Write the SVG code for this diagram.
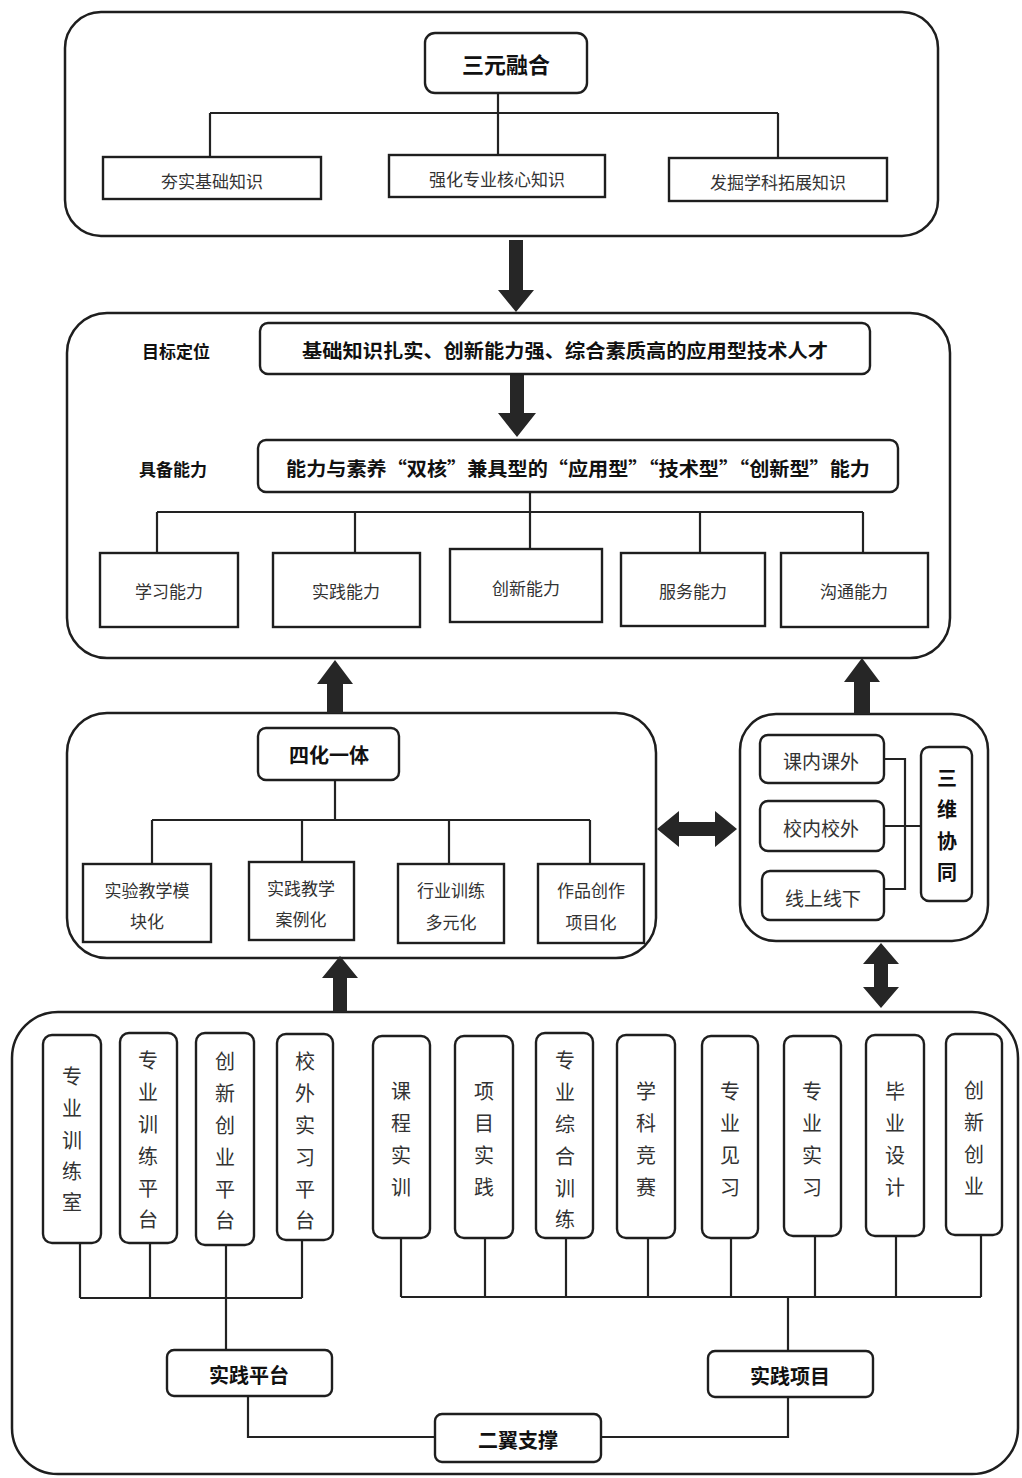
<svg xmlns="http://www.w3.org/2000/svg" width="1022" height="1478" viewBox="0 0 1022 1478">
<style>
.bg{fill:#fff}
.cont{fill:none;stroke:#1e1e1e;stroke-width:2.5}
.box{fill:#fff;stroke:#1e1e1e;stroke-width:2.4}
.ln{fill:none;stroke:#222;stroke-width:2.2}
.arr{fill:#262626;stroke:none}
.t{font-family:"Noto Sans CJK SC","Noto Sans",sans-serif;fill:#333;text-anchor:middle;dominant-baseline:central}
.b{font-weight:bold;fill:#111}
</style>
<rect class="bg" x="0" y="0" width="1022" height="1478"/>

<!-- containers -->
<g id="containers">
<rect class="cont" x="65" y="12" width="873" height="224" rx="36"/>
<rect class="cont" x="67" y="313" width="883" height="345" rx="40"/>
<rect class="cont" x="67" y="713" width="589" height="245" rx="40"/>
<rect class="cont" x="740" y="714" width="248" height="227" rx="36"/>
<rect class="cont" x="12" y="1012" width="1006" height="462" rx="46"/>
</g>

<g id="connectors">
<!-- top -->
<path class="ln" d="M498 93V113M210 113H778M210 113V157M498 113V155M778 113V158"/>
<!-- abilities -->
<path class="ln" d="M530 492V512M157 512H863M157 512V553M355 512V553M530 512V549M700 512V553M863 512V553"/>
<!-- 四化一体 -->
<path class="ln" d="M335 780V820M152 820H590M152 820V864M302 820V862M449 820V864M590 820V864"/>
<!-- 三维协同 -->
<path class="ln" d="M884 759H905V889H884M884 826H921"/>
<!-- bottom left -->
<path class="ln" d="M80 1243V1298M150 1243V1298M226 1245V1350M302 1240V1298M80 1298H302"/>
<!-- bottom right -->
<path class="ln" d="M401 1238V1297M485 1238V1297M566 1238V1297M648 1238V1297M731 1238V1297M815 1236V1297M896 1236V1297M981 1235V1297M401 1297H981M788 1297V1351"/>
<!-- 二翼 -->
<path class="ln" d="M248 1396V1437H435M601 1437H788V1397"/>
<!-- block arrows -->
<polygon class="arr" points="509,240 523,240 523,290 534,290 516,312 498,290 509,290"/>
<polygon class="arr" points="510,374 524,374 524,413 536,413 517,437 498,413 510,413"/>
<polygon class="arr" points="335,660 353,684 343,684 343,713 327,713 327,684 317,684"/>
<polygon class="arr" points="862,658 880,682 870,682 870,714 854,714 854,682 844,682"/>
<polygon class="arr" points="657,829 679,811 679,822 715,822 715,811 737,829 715,847 715,836 679,836 679,847"/>
<polygon class="arr" points="881,943 899,964 888,964 888,987 899,987 881,1008 863,987 874,987 874,964 863,964"/>
<polygon class="arr" points="340,956 358,978 347,978 347,1012 333,1012 333,978 322,978"/>
</g>

<!-- top section -->
<g id="n-sanyuan"><rect class="box" x="425" y="33" width="162" height="60" rx="10"/><text class="t b" x="506" y="63" font-size="22">三元融合</text></g>
<g id="n-hangshi"><rect class="box" x="103" y="157" width="218" height="42"/><text class="t" x="212" y="180" font-size="17">夯实基础知识</text></g>
<g id="n-qianghua"><rect class="box" x="389" y="155" width="216" height="42"/><text class="t" x="497" y="178" font-size="17">强化专业核心知识</text></g>
<g id="n-fajue"><rect class="box" x="669" y="158" width="218" height="43"/><text class="t" x="778" y="181" font-size="17">发掘学科拓展知识</text></g>

<!-- second section -->
<g id="l-mubiao"><text class="t b" x="176" y="350" font-size="17">目标定位</text></g>
<g id="n-mubiao"><rect class="box" x="260" y="323" width="610" height="51" rx="8"/><text class="t b" x="565" y="349" font-size="19" textLength="526" lengthAdjust="spacingAndGlyphs">基础知识扎实、创新能力强、综合素质高的应用型技术人才</text></g>
<g id="l-jubei"><text class="t b" x="173" y="468" font-size="17">具备能力</text></g>
<g id="n-jubei"><rect class="box" x="258" y="440" width="640" height="52" rx="8"/><text class="t b" x="578" y="467" font-size="19" textLength="584" lengthAdjust="spacingAndGlyphs">能力与素养“双核”兼具型的“应用型”“技术型”“创新型”能力</text></g>
<g id="n-xuexi"><rect class="box" x="100" y="553" width="138" height="74"/><text class="t" x="169" y="590" font-size="17">学习能力</text></g>
<g id="n-shijian"><rect class="box" x="273" y="553" width="147" height="74"/><text class="t" x="346" y="590" font-size="17">实践能力</text></g>
<g id="n-chuangxin"><rect class="box" x="450" y="549" width="152" height="73"/><text class="t" x="526" y="587" font-size="17">创新能力</text></g>
<g id="n-fuwu"><rect class="box" x="621" y="553" width="144" height="73"/><text class="t" x="693" y="590" font-size="17">服务能力</text></g>
<g id="n-goutong"><rect class="box" x="781" y="553" width="147" height="74"/><text class="t" x="854" y="590" font-size="17">沟通能力</text></g>

<!-- 四化一体 section -->
<g id="n-sihua"><rect class="box" x="258" y="728" width="141" height="52" rx="8"/><text class="t b" x="329" y="754" font-size="20">四化一体</text></g>
<g id="n-shiyan"><rect class="box" x="83" y="864" width="128" height="78"/><text class="t" x="147" y="889" font-size="17">实验教学模</text><text class="t" x="147" y="920" font-size="17">块化</text></g>
<g id="n-anli"><rect class="box" x="249" y="862" width="105" height="78"/><text class="t" x="301" y="887" font-size="17">实践教学</text><text class="t" x="301" y="918" font-size="17">案例化</text></g>
<g id="n-hangye"><rect class="box" x="398" y="864" width="106" height="79"/><text class="t" x="451" y="889" font-size="17">行业训练</text><text class="t" x="451" y="921" font-size="17">多元化</text></g>
<g id="n-zuopin"><rect class="box" x="538" y="864" width="106" height="79"/><text class="t" x="591" y="889" font-size="17">作品创作</text><text class="t" x="591" y="921" font-size="17">项目化</text></g>

<!-- 三维协同 section -->
<g id="n-kenei"><rect class="box" x="760" y="735" width="124" height="48" rx="8"/><text class="t" x="821" y="760" font-size="19">课内课外</text></g>
<g id="n-xiaonei"><rect class="box" x="760" y="801" width="124" height="50" rx="8"/><text class="t" x="821" y="827" font-size="19">校内校外</text></g>
<g id="n-xianshang"><rect class="box" x="762" y="871" width="122" height="49" rx="8"/><text class="t" x="823" y="897" font-size="19">线上线下</text></g>
<g id="n-sanwei"><rect class="box" x="921" y="747" width="51" height="154" rx="8"/>
<text class="t b" x="947" y="777" font-size="20">三</text><text class="t b" x="947" y="808" font-size="20">维</text><text class="t b" x="947" y="840" font-size="20">协</text><text class="t b" x="947" y="871" font-size="20">同</text></g>

<!-- bottom section -->
<g id="n-v1"><rect class="box" x="43" y="1035" width="58" height="208" rx="9"/>
<text class="t" x="72" y="1075" font-size="20">专</text><text class="t" x="72" y="1107" font-size="20">业</text><text class="t" x="72" y="1139" font-size="20">训</text><text class="t" x="72" y="1170" font-size="20">练</text><text class="t" x="72" y="1201" font-size="20">室</text></g>
<g id="n-v2"><rect class="box" x="120" y="1033" width="57" height="210" rx="9"/>
<text class="t" x="148" y="1059" font-size="20">专</text><text class="t" x="148" y="1091" font-size="20">业</text><text class="t" x="148" y="1123" font-size="20">训</text><text class="t" x="148" y="1155" font-size="20">练</text><text class="t" x="148" y="1187" font-size="20">平</text><text class="t" x="148" y="1218" font-size="20">台</text></g>
<g id="n-v3"><rect class="box" x="196" y="1033" width="58" height="212" rx="9"/>
<text class="t" x="225" y="1060" font-size="20">创</text><text class="t" x="225" y="1092" font-size="20">新</text><text class="t" x="225" y="1124" font-size="20">创</text><text class="t" x="225" y="1156" font-size="20">业</text><text class="t" x="225" y="1188" font-size="20">平</text><text class="t" x="225" y="1219" font-size="20">台</text></g>
<g id="n-v4"><rect class="box" x="277" y="1034" width="56" height="206" rx="9"/>
<text class="t" x="305" y="1060" font-size="20">校</text><text class="t" x="305" y="1092" font-size="20">外</text><text class="t" x="305" y="1124" font-size="20">实</text><text class="t" x="305" y="1156" font-size="20">习</text><text class="t" x="305" y="1188" font-size="20">平</text><text class="t" x="305" y="1219" font-size="20">台</text></g>
<g id="n-v5"><rect class="box" x="373" y="1036" width="57" height="202" rx="9"/>
<text class="t" x="401" y="1090" font-size="20">课</text><text class="t" x="401" y="1122" font-size="20">程</text><text class="t" x="401" y="1154" font-size="20">实</text><text class="t" x="401" y="1186" font-size="20">训</text></g>
<g id="n-v6"><rect class="box" x="455" y="1036" width="58" height="202" rx="9"/>
<text class="t" x="484" y="1090" font-size="20">项</text><text class="t" x="484" y="1122" font-size="20">目</text><text class="t" x="484" y="1154" font-size="20">实</text><text class="t" x="484" y="1186" font-size="20">践</text></g>
<g id="n-v7"><rect class="box" x="536" y="1033" width="57" height="205" rx="9"/>
<text class="t" x="565" y="1059" font-size="20">专</text><text class="t" x="565" y="1091" font-size="20">业</text><text class="t" x="565" y="1123" font-size="20">综</text><text class="t" x="565" y="1155" font-size="20">合</text><text class="t" x="565" y="1187" font-size="20">训</text><text class="t" x="565" y="1218" font-size="20">练</text></g>
<g id="n-v8"><rect class="box" x="617" y="1035" width="58" height="203" rx="9"/>
<text class="t" x="646" y="1090" font-size="20">学</text><text class="t" x="646" y="1122" font-size="20">科</text><text class="t" x="646" y="1154" font-size="20">竞</text><text class="t" x="646" y="1186" font-size="20">赛</text></g>
<g id="n-v9"><rect class="box" x="702" y="1036" width="56" height="202" rx="9"/>
<text class="t" x="730" y="1090" font-size="20">专</text><text class="t" x="730" y="1122" font-size="20">业</text><text class="t" x="730" y="1154" font-size="20">见</text><text class="t" x="730" y="1186" font-size="20">习</text></g>
<g id="n-v10"><rect class="box" x="784" y="1036" width="57" height="200" rx="9"/>
<text class="t" x="812" y="1090" font-size="20">专</text><text class="t" x="812" y="1122" font-size="20">业</text><text class="t" x="812" y="1154" font-size="20">实</text><text class="t" x="812" y="1186" font-size="20">习</text></g>
<g id="n-v11"><rect class="box" x="866" y="1035" width="58" height="201" rx="9"/>
<text class="t" x="895" y="1090" font-size="20">毕</text><text class="t" x="895" y="1122" font-size="20">业</text><text class="t" x="895" y="1154" font-size="20">设</text><text class="t" x="895" y="1186" font-size="20">计</text></g>
<g id="n-v12"><rect class="box" x="946" y="1034" width="56" height="201" rx="9"/>
<text class="t" x="974" y="1089" font-size="20">创</text><text class="t" x="974" y="1121" font-size="20">新</text><text class="t" x="974" y="1153" font-size="20">创</text><text class="t" x="974" y="1185" font-size="20">业</text></g>

<g id="n-pingtai"><rect class="box" x="167" y="1350" width="165" height="46" rx="7"/><text class="t b" x="249" y="1374" font-size="20">实践平台</text></g>
<g id="n-xiangmu"><rect class="box" x="708" y="1351" width="165" height="46" rx="7"/><text class="t b" x="790" y="1375" font-size="20">实践项目</text></g>
<g id="n-eryi"><rect class="box" x="435" y="1414" width="166" height="48" rx="7"/><text class="t b" x="518" y="1439" font-size="20">二翼支撑</text></g>
</svg>
